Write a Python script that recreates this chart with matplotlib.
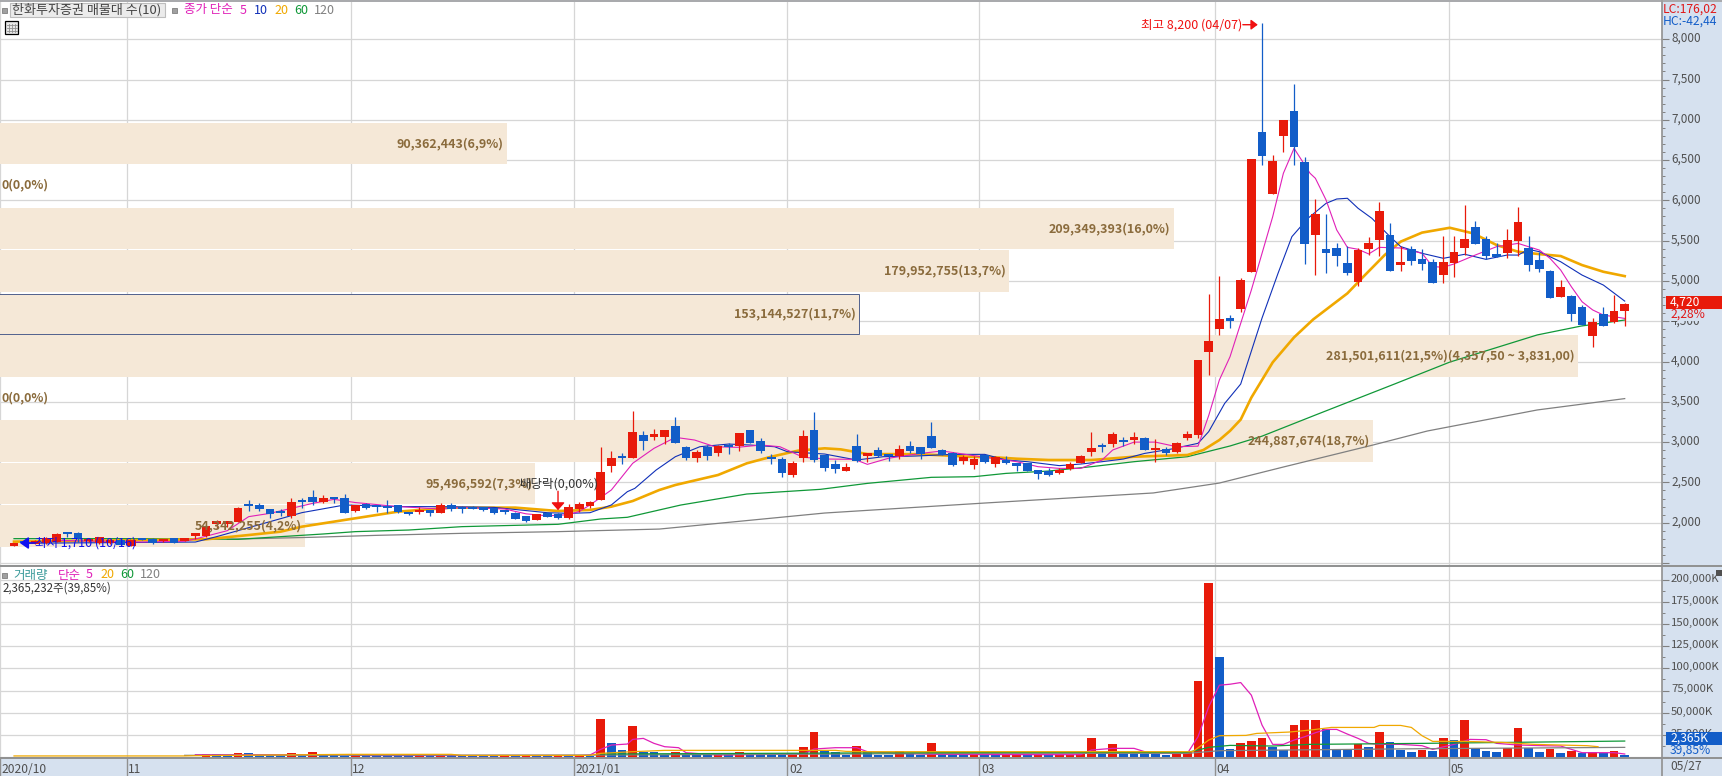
import matplotlib
matplotlib.use("Agg")
import matplotlib.pyplot as plt
from matplotlib.lines import Line2D
from matplotlib.patches import Rectangle
from matplotlib.transforms import ScaledTranslation

plt.rcParams['font.family'] = ['Noto Sans CJK KR', 'DejaVu Sans']

# price candles, one value per trading day
opens = [1715, 1760, 1740, 1745, 1765, 1868, 1872, 1770, 1745, 1745,
         1790, 1711, 1795, 1802, 1773, 1810, 1773, 1838, 1835, 1990,
         1990, 2013, 2216, 2224, 2170, 2129, 2083, 2261, 2319, 2257,
         2302, 2307, 2149, 2232, 2215, 2186, 2215, 2124, 2133, 2141,
         2124, 2220, 2174, 2191, 2195, 2178, 2133, 2124, 2083, 2038,
         2124, 2108, 2054, 2170, 2207, 2282, 2703, 2807, 2803, 3088,
         3063, 3063, 3200, 2939, 2803, 2939, 2865, 2947, 2952, 3150,
         3014, 2794, 2790, 2592, 2803, 3150, 2840, 2728, 2641, 2952,
         2828, 2902, 2852, 2828, 2952, 2939, 3076, 2902, 2865, 2765,
         2716, 2836, 2728, 2778, 2716, 2741, 2654, 2641, 2617, 2662,
         2741, 2877, 2947, 2976, 3026, 3030, 3051, 2898, 2914, 2877,
         3051, 3088, 4118, 4404, 4540, 4652, 5111, 6849, 6079, 6799,
         7110, 6476, 5570, 5397, 5409, 5223, 4987, 5397, 5508, 5571,
         5198, 5397, 5273, 5235, 5074, 5223, 5409, 5670, 5521, 5335,
         5347, 5495, 5408, 5259, 5123, 4800, 4812, 4676, 4317, 4589,
         4491, 4626]
highs = [1745, 1770, 1790, 1820, 1870, 1889, 1880, 1795, 1825, 1800,
         1795, 1790, 1805, 1815, 1800, 1815, 1810, 1868, 1965, 2034,
         2025, 2191, 2282, 2249, 2172, 2166, 2303, 2303, 2406, 2340,
         2323, 2356, 2215, 2245, 2225, 2282, 2222, 2130, 2199, 2157,
         2240, 2249, 2207, 2207, 2200, 2185, 2158, 2128, 2086, 2108,
         2130, 2115, 2228, 2253, 2273, 2935, 2890, 2865, 3386, 3138,
         3163, 3150, 3312, 2952, 2902, 2960, 2965, 2985, 3113, 3150,
         3051, 2852, 2815, 2765, 3150, 3374, 2840, 2778, 2741, 3101,
         2865, 2939, 2852, 2964, 3014, 2939, 3249, 2914, 2877, 2840,
         2827, 2845, 2830, 2827, 2716, 2745, 2658, 2679, 2679, 2753,
         2840, 3125, 2989, 3125, 3063, 3125, 3058, 3038, 2939, 2999,
         3138, 4019, 4838, 5062, 4577, 5037, 6514, 8200, 6563, 7000,
         7445, 6538, 6017, 5831, 5471, 5434, 5409, 5546, 5980, 5719,
         5434, 5434, 5397, 5273, 5558, 5558, 5943, 5744, 5558, 5471,
         5645, 5917, 5557, 5358, 5135, 5011, 4825, 4700, 4535, 4676,
         4825, 4725]
lows = [1710, 1735, 1735, 1740, 1760, 1827, 1765, 1760, 1740, 1735,
        1715, 1705, 1780, 1740, 1765, 1750, 1770, 1802, 1825, 1935,
        1950, 2010, 2150, 2150, 2063, 2083, 2054, 2178, 2220, 2250,
        2245, 2124, 2133, 2166, 2137, 2125, 2116, 2100, 2108, 2083,
        2120, 2150, 2125, 2170, 2150, 2108, 2104, 2050, 2008, 2030,
        2070, 2050, 2050, 2137, 2182, 2280, 2629, 2728, 2803, 2902,
        3026, 2976, 2989, 2778, 2753, 2778, 2828, 2852, 2890, 2989,
        2865, 2728, 2567, 2567, 2753, 2753, 2641, 2617, 2641, 2753,
        2753, 2815, 2765, 2790, 2865, 2790, 2927, 2840, 2703, 2728,
        2666, 2740, 2695, 2730, 2641, 2640, 2546, 2580, 2610, 2650,
        2735, 2827, 2881, 2939, 2952, 2976, 2902, 2753, 2840, 2865,
        3026, 3050, 3833, 4329, 4410, 4620, 5111, 6439, 6079, 6601,
        6439, 5211, 5074, 5099, 5186, 5074, 4938, 5322, 5310, 5124,
        5124, 5198, 5136, 4975, 4975, 5049, 5322, 5459, 5273, 5297,
        5285, 5310, 5122, 5110, 4788, 4800, 4500, 4453, 4180, 4440,
        4480, 4440]
closes = [1730, 1745, 1775, 1815, 1860, 1860, 1794, 1790, 1820, 1790,
          1720, 1785, 1785, 1752, 1794, 1752, 1806, 1848, 1959, 2000,
          2000, 2183, 2208, 2174, 2108, 2121, 2253, 2253, 2257, 2307,
          2294, 2124, 2215, 2182, 2191, 2178, 2133, 2108, 2157, 2124,
          2215, 2166, 2166, 2170, 2158, 2116, 2129, 2050, 2021, 2108,
          2075, 2058, 2199, 2236, 2261, 2633, 2803, 2799, 3125, 3014,
          3100, 3150, 2989, 2803, 2877, 2828, 2952, 2939, 3113, 2989,
          2890, 2786, 2617, 2741, 3076, 2778, 2679, 2666, 2691, 2765,
          2865, 2828, 2828, 2914, 2890, 2852, 2927, 2840, 2716, 2815,
          2790, 2753, 2819, 2741, 2708, 2641, 2604, 2592, 2654, 2728,
          2827, 2927, 2939, 3100, 3001, 3038, 2902, 2906, 2865, 2989,
          3100, 4019, 4255, 4528, 4503, 5012, 6514, 6551, 6489, 7000,
          6663, 5459, 5831, 5347, 5310, 5099, 5384, 5471, 5868, 5124,
          5235, 5248, 5211, 4975, 5235, 5359, 5521, 5459, 5310, 5297,
          5508, 5731, 5197, 5147, 4788, 4924, 4589, 4453, 4491, 4440,
          4626, 4720]

# volume in thousand shares
volumes = [300, 350, 400, 350, 420, 380, 350, 400, 450, 380,
           400, 420, 380, 350, 330, 400, 380, 450, 3375, 3200,
           1500, 4500, 4400, 1600, 1300, 1200, 4500, 1500, 5625, 1800,
           1700, 1600, 1800, 1500, 1400, 1350, 1300, 1250, 1500, 1300,
           1500, 1300, 1200, 1150, 1100, 1050, 1300, 1200, 1500, 1300,
           1200, 1500, 1350, 1600, 1400, 42750, 15750, 7875, 34875, 5625,
           5400, 2000, 5625, 2500, 2000, 1800, 2300, 1900, 5625, 3000,
           2700, 2500, 2200, 2800, 11250, 28125, 6375, 5625, 2800, 12375,
           5625, 2500, 2000, 6750, 4000, 2500, 15750, 5625, 2500, 2000,
           2200, 2000, 1900, 2400, 2800, 2300, 2700, 2200, 2600, 2700,
           2900, 21375, 5000, 14625, 4800, 4200, 3700, 3400, 2200, 4000,
           6000, 85500, 196875, 112500, 9000, 15750, 18000, 21375, 11625, 7500,
           36000, 41625, 41700, 31125, 9000, 8250, 14625, 11250, 28125, 16875,
           7875, 5625, 7875, 7125, 21375, 19125, 41625, 10500, 7125, 5625,
           10500, 32625, 10500, 5625, 9000, 4500, 7125, 4500, 5250, 4500,
           6750, 2365]

ma5_days = [4, 8, 12, 16, 17, 20, 22, 24, 26, 28, 30, 32, 36, 40, 42, 46, 48, 50, 52, 53, 54,
            56, 58, 60, 62, 63.8, 65.7, 67.8, 70, 71.8, 74, 76.3, 78.8, 80, 82, 85, 87, 89, 91,
            93, 94, 96, 98, 100, 102, 103, 105, 107, 109, 111, 112, 113, 114, 116, 118, 119, 120,
            121.5, 122, 123, 124, 125, 126, 127, 128, 130, 132, 133, 134, 135, 137, 139, 141,
            143, 144, 145, 146, 147, 148, 149, 151]
ma5_vals = [1780, 1770, 1760, 1770, 1798, 1901, 2075, 2116, 2178, 2240, 2290, 2250, 2200, 2170, 2190, 2170, 2110, 2085, 2100, 2140, 2220,
            2406, 2737, 2923, 3059, 3026, 2943, 2935, 2964, 2943, 2811, 2790, 2786, 2724, 2800, 2860, 2890, 2852, 2811,
            2778, 2757, 2695, 2674, 2674, 2778, 2902, 3000, 3000, 2943, 2950, 3330, 3771, 4060, 4888, 5798, 6336, 6646,
            6336, 6274, 6005, 5633, 5417, 5393, 5335, 5417, 5409, 5343, 5178, 5170, 5211, 5322, 5426, 5466,
            5383, 5280, 5135, 4928, 4742, 4640, 4577, 4535]
ma10_days = [1, 12, 17, 19, 24, 27, 31, 36, 40, 45, 50, 52, 54, 56, 57.5, 58.2, 60.2, 62, 64.3, 67, 69, 71.3, 72.5,
             76, 79, 81.5, 84.5, 88, 91, 93, 95, 98, 100, 102, 104, 106, 108.5, 111, 112, 113.5, 114, 115, 116, 117,
             118.5, 119.8, 121.3, 123, 124, 125, 126, 127.3, 129, 130, 132, 134, 136, 138, 140, 141,
             142, 143, 145, 147, 149, 151]
ma10_vals = [1745, 1755, 1760, 1827, 2013, 2125, 2220, 2200, 2199, 2190, 2124, 2116, 2124, 2220, 2385, 2426, 2654, 2819, 2943, 2976, 2964, 2943, 2881,
             2852, 2778, 2819, 2827, 2848, 2848, 2778, 2757, 2708, 2728, 2757, 2790, 2860, 2914, 2985, 3130, 3481, 3560, 3721, 4130, 4540,
             5095, 5550, 5777, 5963, 6017, 6026, 5902, 5777, 5550, 5426, 5343, 5281, 5331, 5268, 5322, 5321,
             5391, 5363, 5238, 5073, 4949, 4750]
ma20_days = [0, 18, 22, 25, 27, 31, 36, 41, 47, 51, 54, 56, 58, 60.5, 62, 66, 68.7, 71, 73.5, 76, 77.5, 80, 85, 89.5,
             92, 94, 97, 101, 103, 105, 110, 111.5, 113, 114, 115, 116, 118, 120, 121.8, 125, 126.5, 128.5, 130, 132,
             134.6, 136.8, 139, 141, 143, 145, 147, 149, 151]
ma20_vals = [1765, 1794, 1847, 1889, 1951, 2034, 2137, 2187, 2187, 2145, 2158, 2199, 2269, 2406, 2468, 2592, 2737, 2819, 2894, 2923, 2910, 2852, 2850, 2819,
             2811, 2794, 2778, 2778, 2798, 2819, 2840, 2902, 3026, 3140, 3280, 3553, 3990, 4300, 4523, 4846, 5053, 5322, 5488, 5600,
             5660, 5590, 5445, 5363, 5333, 5309, 5197, 5114, 5060]
ma60_days = [0, 13, 21, 26, 29, 32, 37, 42, 51, 55, 57.5, 62.5, 68.7, 75.6, 80, 86, 90, 93, 97, 101, 105, 110, 112.5, 114,
             117, 122, 129.4, 134.6, 142.8, 146.9, 151]
ma60_vals = [1802, 1802, 1794, 1835, 1860, 1889, 1909, 1951, 1980, 2046, 2067, 2219, 2356, 2414, 2488, 2563, 2571, 2612, 2641, 2695, 2757, 2819, 2902, 2952,
             3074, 3336, 3720, 3993, 4330, 4440, 4515]
ma120_days = [20, 28, 34, 42, 51, 60.5, 76, 91, 106.8, 113, 119, 127.4, 132.5, 142.8, 151]
ma120_vals = [1794, 1819, 1843, 1868, 1889, 1921, 2120, 2244, 2369, 2492, 2691, 2964, 3138, 3399, 3540]

# volume moving averages (thousand shares)
vol_ma5_days = [17, 31, 33, 53, 54, 55, 56, 57.5, 58, 59, 60, 61, 62.3, 63, 66, 74, 75, 77, 79, 80, 83, 86, 93, 100,
                101, 103, 105, 106, 107, 110, 111, 112, 113, 114, 115, 116, 117, 118, 119, 120, 121, 122, 123, 124,
                125, 126, 127, 128, 130, 132, 133, 135, 136.5, 138, 139, 141, 143.5, 145, 146, 147, 150, 151]
vol_ma5_vals = [2600, 2600, 1700, 1700, 2250, 8625, 13500, 14625, 19875, 21000, 15375, 11625, 10500, 4875, 2250, 3375, 9000, 10500, 10500, 6000, 4125, 3000, 2700, 2600,
                7875, 9750, 9750, 6000, 4000, 4000, 22875, 56625, 81000, 82125, 84000, 69750, 36000, 14250, 14250, 19125, 22875, 27375, 31125, 31125,
                25875, 21000, 15375, 14250, 14250, 12750, 8625, 14250, 19875, 19500, 15375, 13500, 12750, 12375, 8625, 4875, 4875, 3375]
vol_ma20_days = [0, 16, 17, 31.5, 41, 42, 54, 55, 58, 61, 77, 78, 80, 93, 110.5, 112, 113, 115.5, 116.5, 119.5, 121.5, 123.5,
                 127.5, 128, 130, 131, 132, 133, 136, 139.5, 141, 142.5, 147.5, 148.5]
vol_ma20_vals = [1200, 1200, 1500, 3000, 3000, 1800, 1800, 4125, 6000, 7500, 7500, 6375, 6000, 6000, 6000, 19125, 24000, 24375, 26625, 28125, 30375, 33375,
                 33375, 35625, 35625, 33375, 24000, 17625, 17625, 16500, 15375, 14250, 12750, 11625]
vol_ma60_days = [55, 93, 110, 111, 112, 114, 118, 121.5, 132, 143, 151]
vol_ma60_vals = [3375, 5250, 5250, 7875, 10875, 13125, 12375, 14250, 15375, 16875, 18000]
vol_ma120_days = [16, 54, 93, 110, 113, 132, 151]
vol_ma120_vals = [1875, 2200, 4125, 4125, 7125, 9375, 10875]

# volume profile rows, biggest price first (million shares, price range)
vp_lows = [6455, 5397, 4863, 4341, 3812, 2757, 2232, 1702]
vp_highs = [6960, 5905, 5385, 4838, 4329, 3275, 2741, 2220]
vp_values = [90.362443, 209.349393, 179.952755, 153.144527, 281.501611, 244.887674, 95.496592, 54.342255]
vp_labels = ['90,362,443(6,9%)', '209,349,393(16,0%)', '179,952,755(13,7%)', '153,144,527(11,7%)',
             '281,501,611(21,5%)(4,357,50 ~ 3,831,00)', '244,887,674(18,7%)', '95,496,592(7,3%)', '54,342,255(4,2%)']

month_days = [-1.31, 10.55, 31.55, 52.5, 72.5, 90.5, 112.55, 134.5]
month_labels = ['2020/10', '11', '12', '2021/01', '02', '03', '04', '05']

RED = '#E81A0A'
BLUE = '#125DC8'
MAG = '#E020B8'
NAVY = '#1030B8'
ORANGE = '#F0A800'
GREEN = '#109838'
GRAY = '#808080'
GRID = '#D6D6D6'
BROWN = '#8A6B3C'
STRIP = '#D6E1EF'
W, H = 1722, 776
DAY_PX = 10.667


def fx(x):
    return x / W


def fy(y):
    return 1 - y / H


fig = plt.figure(figsize=(W / 100, H / 100), dpi=100, facecolor=STRIP)
ax = fig.add_axes([0, fy(565), fx(1662), fy(1.5) - fy(565)])
ax_v = fig.add_axes([0, fy(758), fx(1662), fy(566.5) - fy(758)])

xlim = (-14 / DAY_PX, (1662 - 14) / DAY_PX)
days = list(range(len(closes)))

# grid
ax.set_xlim(xlim)
ax.set_ylim(1475, 8468)
ax.set_axisbelow(True)
ax.set_yticks(list(range(1500, 8001, 500)))
ax.set_yticks(list(range(1500, 8001, 100)), minor=True)
ax.set_yticklabels([''] + [f'{v:,}' for v in range(2000, 8001, 500)])
ax.yaxis.tick_right()
ax.tick_params(axis='y', which='major', length=5, width=0.8, color=GRAY, labelcolor='#505050', labelsize=8.5, pad=1.5)
ax.tick_params(axis='y', which='minor', length=2.5, width=0.7, color=GRAY)
ax.set_xticks(month_days)
ax.tick_params(axis='x', length=0, labelbottom=False)
ax.grid(True, color=GRID, linewidth=0.9, zorder=1)

# volume profile
for lo, hi, val in zip(vp_lows, vp_highs, vp_values):
    ax.barh(lo, val * 5.606 / DAY_PX, height=hi - lo, left=xlim[0], align='edge', color='#F5E8D7', linewidth=0, zorder=1.5)
ax.add_patch(Rectangle((xlim[0] - 0.2, vp_lows[3]), vp_values[3] * 5.606 / DAY_PX + 0.2, vp_highs[3] - vp_lows[3],
                       fill=False, edgecolor='#50608C', linewidth=0.7, zorder=1.6))

# moving averages
ax.plot(ma120_days, ma120_vals, color=GRAY, lw=0.9, zorder=2)
ax.plot(ma60_days, ma60_vals, color=GREEN, lw=0.9, zorder=2.1)
ax.plot(ma20_days, ma20_vals, color=ORANGE, lw=1.9, zorder=2.2)
ax.plot(ma10_days, ma10_vals, color=NAVY, lw=0.8, zorder=2.3)
ax.plot(ma5_days, ma5_vals, color=MAG, lw=0.8, zorder=2.4)

# candles
candle_colors = [RED if c >= o else BLUE for o, c in zip(opens, closes)]
ax.vlines(days, lows, highs, colors=candle_colors, linewidth=0.9, zorder=3)
ax.bar(days, [max(abs(c - o), 28) for o, c in zip(opens, closes)], bottom=[min(o, c) for o, c in zip(opens, closes)],
       width=0.82, color=candle_colors, linewidth=0, antialiased=False, zorder=3.1)

# profile labels
for lo, hi, val, lab in zip(vp_lows, vp_highs, vp_values, vp_labels):
    ax.text(xlim[0] + (val * 5.606 - 3) / DAY_PX, (lo + hi) / 2, lab, ha='right', va='center',
            color=BROWN, fontsize=9, fontweight='bold', zorder=5)
ax.text(xlim[0] + 2 / DAY_PX, 6190, '0(0,0%)', ha='left', va='center', color=BROWN, fontsize=9, fontweight='bold', zorder=5)
ax.text(xlim[0] + 2 / DAY_PX, 3547, '0(0,0%)', ha='left', va='center', color=BROWN, fontsize=9, fontweight='bold', zorder=5)

# high, low and ex-dividend marks
ax.text(115.1, 8180, '최고 8,200 (04/07)', ha='right', va='center', color='#F01010', fontsize=9, zorder=6)
ax.annotate('', xy=(116.6, 8180), xytext=(115.2, 8180), zorder=6,
            arrowprops=dict(arrowstyle='-|>,head_width=0.3,head_length=0.4', color='#F01010', lw=1, shrinkA=0, shrinkB=0))
ax.text(2, 1748, '최저 1,710 (10/16)', ha='left', va='center', color='#1010F0', fontsize=9, zorder=6)
ax.annotate('', xy=(0.55, 1748), xytext=(2, 1748), zorder=6,
            arrowprops=dict(arrowstyle='-|>,head_width=0.35,head_length=0.5', color='#1010F0', lw=1.2, shrinkA=0, shrinkB=0))
ax.text(47.4, 2480, '배당락(0,00%)', ha='left', va='center', color='#333333', fontsize=9, zorder=6)
ax.annotate('', xy=(51, 2155), xytext=(51, 2390), zorder=6,
            arrowprops=dict(arrowstyle='-|>,head_width=0.4,head_length=0.45', color='#F01010', lw=1, shrinkA=0, shrinkB=0))

# volume panel
ax_v.set_xlim(xlim)
ax_v.set_ylim(-1125, 214960)
ax_v.set_axisbelow(True)
ax_v.set_yticks(list(range(0, 200001, 25000)))
ax_v.set_yticks(list(range(0, 200001, 12500)), minor=True)
ax_v.set_yticklabels([''] + [f'{v:,}K' for v in range(25000, 200001, 25000)])
ax_v.yaxis.tick_right()
ax_v.tick_params(axis='y', which='major', length=5, width=0.8, color=GRAY, labelcolor='#505050', labelsize=8.2, pad=1.5)
ax_v.tick_params(axis='y', which='minor', length=2.5, width=0.7, color=GRAY)
ax_v.set_xticks(month_days)
ax_v.set_xticklabels([])
ax_v.tick_params(axis='x', length=13, width=1, color='#909090')
ax_v.grid(True, color=GRID, linewidth=0.9, zorder=1)

vol_colors = [RED if i == 0 or volumes[i] >= volumes[i - 1] else BLUE for i in days]
ax_v.bar(days, volumes, width=0.82, color=vol_colors, linewidth=0, antialiased=False, zorder=2)
ax_v.plot(vol_ma5_days, vol_ma5_vals, color=MAG, lw=0.9, zorder=3)
ax_v.plot(vol_ma120_days, vol_ma120_vals, color=GRAY, lw=0.9, zorder=3.1)
ax_v.plot(vol_ma60_days, vol_ma60_vals, color=GREEN, lw=0.9, zorder=3.2)
ax_v.plot(vol_ma20_days, vol_ma20_vals, color=ORANGE, lw=0.9, zorder=3.3)

# tick labels sit a little above their ticks in the reference
lift = ScaledTranslation(0, 1.5 / 72, fig.dpi_scale_trans)
for a in (ax, ax_v):
    for lab in a.get_yticklabels():
        lab.set_transform(lab.get_transform() + lift)

# date strip
for pos, lab in zip(month_days, month_labels):
    ax_v.annotate(lab, (pos, 0), xycoords=ax_v.get_xaxis_transform(), xytext=(1.2, -8), textcoords='offset points',
                  ha='left', va='center', color='#505050', fontsize=8.7, annotation_clip=False)
fig.text(fx(1670), fy(767), '05/27', ha='left', va='center', color='#505050', fontsize=8.7)

for a in (ax, ax_v):
    for side in ('left', 'top', 'bottom'):
        a.spines[side].set_visible(False)
    a.spines['right'].set_color('#909090')
    a.spines['right'].set_linewidth(1.2)

fig.add_artist(Line2D([fx(1662), fx(1662)], [fy(758), 0], color='#909090', lw=1.2))
fig.add_artist(Line2D([0, 1], [fy(1), fy(1)], color='#A0A0A0', lw=1.2))
fig.add_artist(Line2D([0, 1], [fy(566), fy(566)], color='#909090', lw=1.4))
fig.add_artist(Line2D([0, 1], [fy(758), fy(758)], color='#909090', lw=1.4))


def square(x, y):
    fig.add_artist(Rectangle((fx(x - 2.5), fy(y + 2.5)), 5 / W, 5 / H, facecolor='#A0A0A0', edgecolor='#808080', lw=0.6))


# header
square(4.5, 10)
fig.add_artist(Rectangle((fx(9.5), fy(17)), 155 / W, 13.5 / H, facecolor='#EBEBEB', edgecolor='#BDBDBD', lw=0.8, zorder=8))
fig.text(fx(12), fy(10), '한화투자증권 매물대 수(10)', ha='left', va='center', color='#444444', fontsize=9.4, zorder=9)
square(174, 10)
for x, s, c in [(184, '종가 단순', MAG), (240, '5', MAG), (254, '10', NAVY), (274, '20', ORANGE), (294, '60', GREEN), (314, '120', GRAY)]:
    fig.text(fx(x), fy(10), s, ha='left', va='center', color=c, fontsize=9)

# table icon
fig.add_artist(Rectangle((fx(5), fy(34)), 12.5 / W, 12.5 / H, facecolor='#E8E8E8', edgecolor='black', lw=0.9))
for x in (8.5, 11.5, 14.5):
    fig.add_artist(Line2D([fx(x), fx(x)], [fy(24), fy(32)], color='#909090', lw=0.6))
for y in (25, 28, 31):
    fig.add_artist(Line2D([fx(6.5), fx(16.5)], [fy(y), fy(y)], color='#909090', lw=0.6))

square(4.5, 575)
for x, s, c in [(13, '거래량', '#3A9A9A'), (58, '단순', MAG), (86, '5', MAG), (100, '20', ORANGE), (120, '60', GREEN), (140, '120', GRAY)]:
    fig.text(fx(x), fy(575), s, ha='left', va='center', color=c, fontsize=9)
fig.text(fx(3), fy(588.5), '2,365,232주(39,85%)', ha='left', va='center', color='#333333', fontsize=8.3)

# right side readouts
fig.text(fx(1663), fy(9), 'LC:176,02', ha='left', va='center', color='#E01818', fontsize=8.7, zorder=9)
fig.text(fx(1663), fy(21), 'HC:-42,44', ha='left', va='center', color=BLUE, fontsize=8.7, zorder=9)
fig.add_artist(Rectangle((fx(1666), fy(309)), 56 / W, 13 / H, facecolor=RED, edgecolor='none', zorder=8))
fig.text(fx(1670), fy(302), '4,720', ha='left', va='center', color='white', fontsize=8.7, zorder=9)
fig.add_artist(Rectangle((fx(1666), fy(321)), 56 / W, 7 / H, facecolor=STRIP, edgecolor='none', zorder=8))
fig.text(fx(1670), fy(314.5), '2,28%', ha='left', va='center', color='#E01818', fontsize=8.7, zorder=9)
fig.add_artist(Rectangle((fx(1666), fy(745)), 56 / W, 13 / H, facecolor=BLUE, edgecolor='none', zorder=8))
fig.text(fx(1670), fy(738.5), '2,365K', ha='left', va='center', color='white', fontsize=8.7, zorder=9)
fig.text(fx(1670), fy(750.5), '39,85%', ha='left', va='center', color=BLUE, fontsize=8.7, zorder=9)
fig.add_artist(Rectangle((fx(1716), fy(576)), 6 / W, 6 / H, facecolor='#505050', edgecolor='none', zorder=8))

fig.savefig('out.png', dpi=100, facecolor=STRIP)
